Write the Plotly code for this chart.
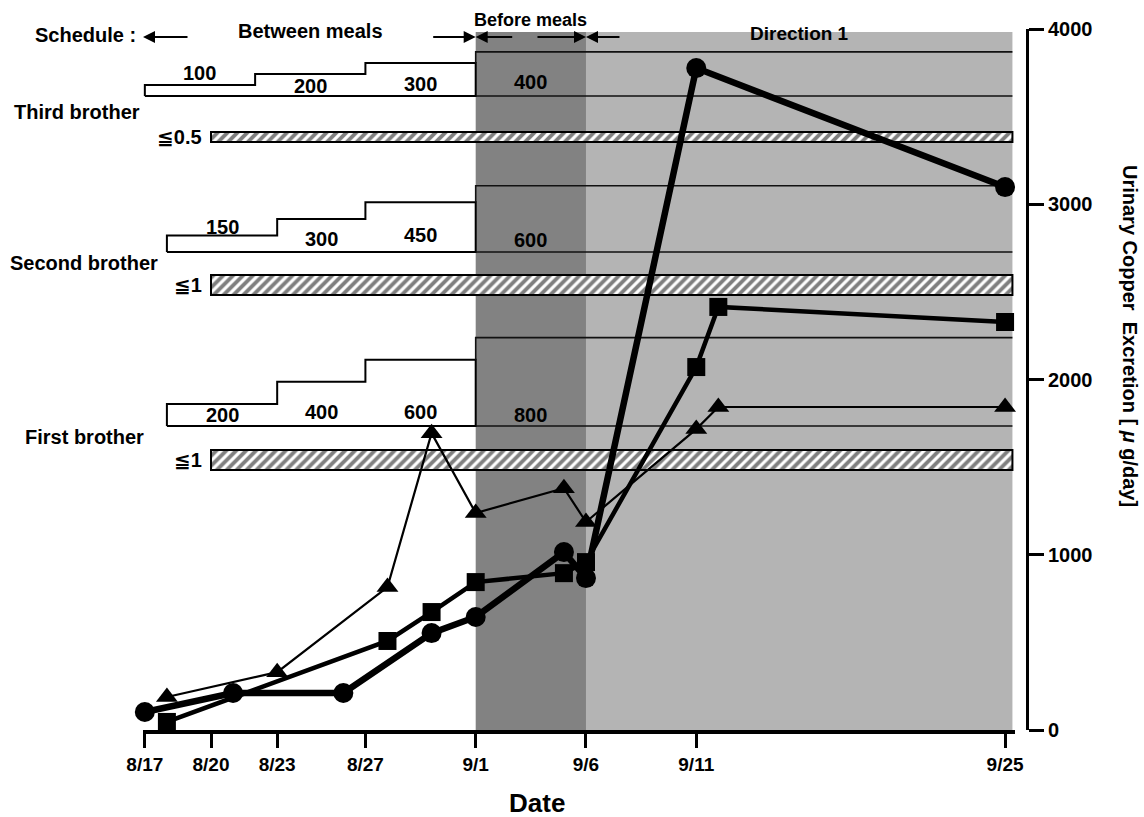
import plotly.graph_objects as go
import pandas as pd

YEAR = 2003


def d(md):
    m, dd = md.split("/")
    return f"{YEAR}-{int(m):02d}-{int(dd):02d}"


# ---------------- data ----------------
tick_labels = ["8/17", "8/20", "8/23", "8/27", "9/1", "9/6", "9/11", "9/25"]

circle_dates = ["8/17", "8/21", "8/26", "8/30", "9/1", "9/5", "9/6", "9/11", "9/25"]
circle_vals = [103, 211, 211, 553, 645, 1015, 867, 3777, 3098]

square_dates = ["8/18", "8/28", "8/30", "9/1", "9/5", "9/6", "9/11", "9/12", "9/25"]
square_vals = [46, 508, 673, 844, 895, 958, 2071, 2414, 2328]

tri_dates = ["8/18", "8/23", "8/28", "8/30", "9/1", "9/5", "9/6", "9/11", "9/12", "9/25"]
tri_vals = [188, 330, 816, 1694, 1238, 1380, 1187, 1717, 1843, 1843]

# schedule (dose steps) per brother
brothers = ["Third brother", "Second brother", "First brother"]
third_steps = ["8/17", "8/22", "8/27", "9/1"]
third_doses = [100, 200, 300, 400]
second_steps = ["8/18", "8/23", "8/27", "9/1"]
second_doses = [150, 300, 450, 600]
first_steps = ["8/18", "8/23", "8/27", "9/1"]
first_doses = [200, 400, 600, 800]
threshold_labels = ["≦0.5", "≦1", "≦1"]
threshold_start = "8/20"

phase_names = ["Between meals", "Before meals", "Direction 1"]
phase_bounds = ["8/17", "9/1", "9/6"]
PHASE_END = f"{YEAR}-09-25 08:00"
X_START = f"{YEAR}-08-16 22:00"
X_END = f"{YEAR}-09-25 10:48"

# ---------------- layout helpers (reference pixel coords) ----------------
W, H = 1144, 817
L, R, T = 143, 117, 29
B = H - 730
PW, PH = W - L - R, H - T - B
XDOM = (1015 - 143) / PW


def xp(px):
    return (px - 143) / PW


def yp(py):
    return (730 - py) / PH


def Y(py):  # reference pixel row -> y-axis units (0..4000 over plot height)
    return yp(py) * 4000


def ts(s):
    return pd.Timestamp(s)


def mid(a, b):
    return (ts(a) + (ts(b) - ts(a)) / 2).strftime("%Y-%m-%d %H:%M")


FONT = "Liberation Sans, Arial, DejaVu Sans, sans-serif"
BLACK = "black"

fig = go.Figure()

# ---------------- schedule outlines ----------------
K = 0.63  # y units per dose unit
bases = [Y(96), Y(252), Y(426)]
steps_all = [third_steps, second_steps, first_steps]
doses_all = [third_doses, second_doses, first_doses]

for base, steps, doses in zip(bases, steps_all, doses_all):
    xs = [d(steps[0])]
    ys = [base]
    for i in range(3):
        xs += [d(steps[i]), d(steps[i + 1])]
        ys += [base + doses[i] * K, base + doses[i] * K]
    xs += [d(steps[3]), d(steps[0])]
    ys += [base, base]
    fig.add_trace(go.Scatter(x=xs, y=ys, mode="lines", fill="toself",
                             fillcolor="white", line=dict(color=BLACK, width=2),
                             hoverinfo="skip", showlegend=False))
    fig.add_trace(go.Scatter(x=[d(steps[3]), d(steps[3]), PHASE_END],
                             y=[base + doses[2] * K, base + doses[3] * K, base + doses[3] * K],
                             mode="lines", line=dict(color="#111111", width=1.6),
                             hoverinfo="skip", showlegend=False))
    fig.add_trace(go.Scatter(x=[d(steps[3]), PHASE_END], y=[base, base],
                             mode="lines", line=dict(color="#111111", width=1.6),
                             hoverinfo="skip", showlegend=False))

# ---------------- hatched bars ----------------
hatch_centers = [Y(137), Y(285), Y(460)]
hatch_widths = [Y(132) - Y(142), Y(275) - Y(295), Y(450) - Y(470)]
dur = (ts(PHASE_END) - ts(d(threshold_start))).total_seconds() * 1000
for c, w in zip(hatch_centers, hatch_widths):
    fig.add_trace(go.Bar(
        orientation="h", y=[c], width=[w], x=[dur], base=[d(threshold_start)],
        marker=dict(color="white", line=dict(color=BLACK, width=2),
                    pattern=dict(shape="/", fgcolor=BLACK, bgcolor="white",
                                 size=7, solidity=0.55)),
        hoverinfo="skip", showlegend=False))

# ---------------- data series ----------------
fig.add_trace(go.Scatter(x=[d(s) for s in tri_dates], y=tri_vals, mode="lines+markers",
                         line=dict(color=BLACK, width=2.2),
                         marker=dict(symbol="triangle-up", size=19, color=BLACK),
                         cliponaxis=False, showlegend=False))
fig.add_trace(go.Scatter(x=[d(s) for s in square_dates], y=square_vals, mode="lines+markers",
                         line=dict(color=BLACK, width=4.5),
                         marker=dict(symbol="square", size=18, color=BLACK),
                         cliponaxis=False, showlegend=False))
fig.add_trace(go.Scatter(x=[d(s) for s in circle_dates], y=circle_vals, mode="lines+markers",
                         line=dict(color=BLACK, width=6.5),
                         marker=dict(symbol="circle", size=20, color=BLACK),
                         cliponaxis=False, showlegend=False))

# ---------------- background phases ----------------
shapes = [
    dict(type="rect", xref="x", yref="y", x0=d(phase_bounds[1]), x1=d(phase_bounds[2]),
         y0=0, y1=Y(32), fillcolor="#828282", line=dict(width=0), layer="below"),
    dict(type="rect", xref="x", yref="y", x0=d(phase_bounds[2]), x1=PHASE_END,
         y0=0, y1=Y(32), fillcolor="#b4b4b4", line=dict(width=0), layer="below"),
]

# ---------------- annotations ----------------
ann = []
tf = dict(family=FONT, size=20, color=BLACK, weight="bold")

# dose labels
label_py = [[73, 86, 84, 82], [227, 239, 235, 240], [415, 412, 412, 415]]
for steps, doses, pys in zip(steps_all, doses_all, label_py):
    bounds = steps + ["9/6"]
    for i in range(4):
        ann.append(dict(x=mid(d(bounds[i]), d(bounds[i + 1])), y=Y(pys[i]), xref="x", yref="y",
                        xanchor="center", yanchor="middle",
                        text=str(doses[i]), showarrow=False, font=tf))

# brother names
for name, lx, ly in zip(brothers, [12, 8, 23], [112, 263, 437]):
    ann.append(dict(x=xp(lx), y=yp(ly), xref="paper", yref="paper", xanchor="left",
                    yanchor="middle", text=name, showarrow=False, font=tf))

# threshold labels
for lab, ly in zip(threshold_labels, [137, 285, 460]):
    ann.append(dict(x=d(threshold_start), y=Y(ly), xref="x", yref="y", xanchor="right",
                    yanchor="middle", xshift=-7, text=lab, showarrow=False, font=tf))

# header
ann.append(dict(x=xp(33), y=yp(35), xref="paper", yref="paper", xanchor="left",
                yanchor="middle", text="Schedule :", showarrow=False, font=tf))
phase_ends = [d(phase_bounds[1]), d(phase_bounds[2]), PHASE_END]
phase_starts = [d(p) for p in phase_bounds]
phase_py = [31, 20, 33]
phase_sizes = [20, 18, 19]
for i, name in enumerate(phase_names):
    ann.append(dict(x=mid(phase_starts[i], phase_ends[i]), y=yp(phase_py[i]),
                    xref="x", yref="paper", xanchor="center", yanchor="middle",
                    text=name, showarrow=False,
                    font=dict(family=FONT, size=phase_sizes[i], color=BLACK, weight="bold")))

arrow_y = yp(37)
arrows = [  # (head date, tail offset px)
    (X_START, 46),
    (d("9/1"), -44),
    (d("9/1"), 38),
    (d("9/6"), -50),
    (d("9/6"), 35),
]
for hx, off in arrows:
    ann.append(dict(x=hx, y=arrow_y, xref="x", yref="paper", ax=off, ay=0,
                    axref="pixel", ayref="pixel", text="", showarrow=True,
                    arrowhead=2, arrowsize=1.2, arrowwidth=2, arrowcolor=BLACK, standoff=0))

# axis titles
ann.append(dict(x=xp(537), y=yp(803), xref="paper", yref="paper", text="Date",
                xanchor="center", yanchor="middle",
                showarrow=False, font=dict(family=FONT, size=26, color=BLACK, weight="bold")))
ann.append(dict(x=xp(1130), y=yp(336), xref="paper", yref="paper",
                xanchor="center", yanchor="middle",
                text="Urinary Copper  Excretion [ <i>μ</i> g/day]", textangle=90,
                showarrow=False, font=dict(family=FONT, size=20, color=BLACK, weight="bold")))

fig.update_layout(
    width=W, height=H,
    margin=dict(l=L, r=R, t=T, b=B, pad=0),
    paper_bgcolor="white", plot_bgcolor="white",
    barmode="overlay", showlegend=False,
    shapes=shapes, annotations=ann,
    xaxis=dict(type="date", domain=[0, XDOM], range=[X_START, X_END],
               tickvals=[d(t) for t in tick_labels], ticktext=tick_labels,
               ticks="outside", ticklen=14, tickwidth=3, tickcolor=BLACK,
               showline=True, linewidth=4, linecolor=BLACK, showgrid=False,
               zeroline=False, tickfont=dict(family=FONT, size=19, color=BLACK, weight="bold")),
    yaxis=dict(range=[0, 4000], anchor="free", position=1, side="right",
               tickvals=[0, 1000, 2000, 3000, 4000],
               ticks="outside", ticklen=15, tickwidth=3, tickcolor=BLACK,
               showline=True, linewidth=3, linecolor=BLACK, showgrid=False,
               zeroline=False, tickfont=dict(family=FONT, size=20, color=BLACK, weight="bold")),
)

fig.write_html("out.html", config={"displayModeBar": False},
               post_script="document.body.style.margin='0px';document.body.style.overflow='hidden';")
